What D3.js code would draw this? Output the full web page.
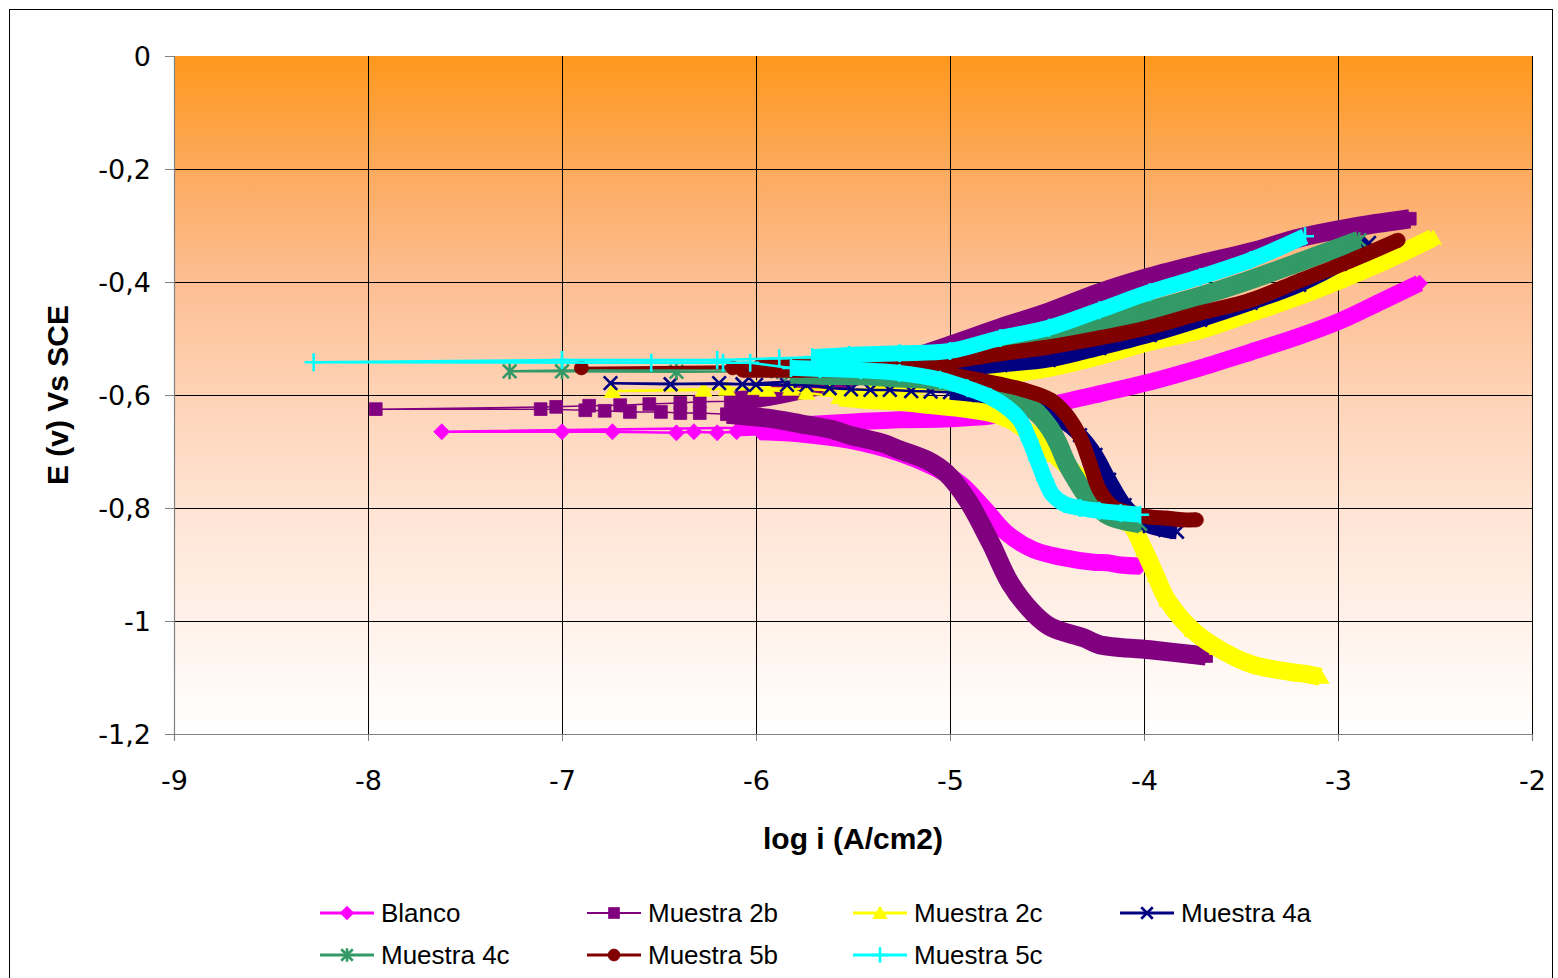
<!DOCTYPE html>
<html><head><meta charset="utf-8">
<script src="https://cdn.jsdelivr.net/npm/d3@7"></script>
<style>body{margin:0;background:#fff}</style>
</head><body>
<svg id="chart" width="1558" height="978"></svg>
<script>
// ---------- axes ----------
const xTicks = [-9,-8,-7,-6,-5,-4,-3,-2];
const yTicks = [0,-0.2,-0.4,-0.6,-0.8,-1,-1.2];
const yTickLabels = ["0","-0,2","-0,4","-0,6","-0,8","-1","-1,2"];
const xTitle = "log i (A/cm2)";
const yTitle = "E (v) Vs SCE";
const seriesNames = ["Blanco","Muestra 2b","Muestra 2c","Muestra 4a","Muestra 4c","Muestra 5b","Muestra 5c"];

// ---------- data: [log i, E] ; cathodic branch, points near Ecorr, anodic branch ----------
const blancoCathodic = [[-4.02,-0.903],[-4.12,-0.901],[-4.19,-0.897],[-4.26,-0.896],[-4.43,-0.887],[-4.57,-0.874],[-4.71,-0.844],[-4.83,-0.798],[-4.95,-0.756],[-5.09,-0.727],[-5.26,-0.703],[-5.52,-0.680],[-5.77,-0.669],[-5.98,-0.665]];
const blancoCorr = [[-6.10,-0.665],[-6.20,-0.667],[-6.32,-0.665],[-6.41,-0.667],[-6.74,-0.665],[-7.00,-0.665],[-7.62,-0.665]];
const blancoAnodic = [[-6.08,-0.658],[-5.77,-0.653],[-5.52,-0.648],[-5.26,-0.644],[-5.00,-0.642],[-4.74,-0.635],[-4.49,-0.618],[-4.23,-0.598],[-3.97,-0.577],[-3.71,-0.552],[-3.45,-0.524],[-3.20,-0.496],[-2.99,-0.469],[-2.78,-0.435],[-2.58,-0.402]];

const m2bCathodic = [[-3.68,-1.062],[-3.97,-1.051],[-4.23,-1.042],[-4.31,-1.030],[-4.48,-1.011],[-4.57,-0.986],[-4.69,-0.933],[-4.79,-0.862],[-4.91,-0.786],[-5.02,-0.738],[-5.12,-0.715],[-5.26,-0.697],[-5.35,-0.685],[-5.52,-0.671],[-5.60,-0.662],[-5.77,-0.651],[-5.94,-0.641],[-6.15,-0.634]];
const m2bCorr = [[-6.29,-0.632],[-6.39,-0.632],[-6.49,-0.630],[-6.65,-0.630],[-6.78,-0.628],[-6.88,-0.627],[-7.11,-0.625],[-7.96,-0.625],[-7.03,-0.621],[-6.86,-0.619],[-6.70,-0.618],[-6.55,-0.616],[-6.39,-0.614],[-6.29,-0.612]];
const m2bAnodic = [[-6.13,-0.611],[-5.98,-0.605],[-5.77,-0.591],[-5.52,-0.570],[-5.26,-0.542],[-5.00,-0.512],[-4.74,-0.481],[-4.49,-0.453],[-4.23,-0.419],[-3.97,-0.391],[-3.71,-0.368],[-3.45,-0.347],[-3.20,-0.322],[-2.94,-0.304],[-2.63,-0.288]];

const m2cCathodic = [[-3.09,-1.099],[-3.16,-1.094],[-3.25,-1.090],[-3.45,-1.076],[-3.62,-1.048],[-3.75,-1.016],[-3.88,-0.963],[-3.94,-0.919],[-4.00,-0.874],[-4.07,-0.828],[-4.20,-0.791],[-4.33,-0.747],[-4.46,-0.706],[-4.59,-0.667],[-4.69,-0.644],[-4.79,-0.632],[-4.95,-0.623],[-5.10,-0.618],[-5.26,-0.612],[-5.41,-0.609],[-5.57,-0.604]];
const m2cCorr = [[-5.74,-0.596],[-5.94,-0.591],[-6.15,-0.589],[-6.27,-0.591],[-6.74,-0.593],[-6.00,-0.588],[-5.82,-0.589],[-5.62,-0.591]];
const m2cAnodic = [[-5.41,-0.589],[-5.26,-0.586],[-5.00,-0.575],[-4.74,-0.565],[-4.49,-0.552],[-4.23,-0.531],[-3.97,-0.506],[-3.71,-0.485],[-3.45,-0.455],[-3.20,-0.425],[-3.00,-0.398],[-2.78,-0.366],[-2.51,-0.322]];

const m4aCathodic = [[-3.83,-0.842],[-3.89,-0.839],[-3.97,-0.832],[-4.02,-0.821],[-4.10,-0.795],[-4.18,-0.750],[-4.25,-0.706],[-4.33,-0.671],[-4.43,-0.644],[-4.54,-0.627],[-4.69,-0.609],[-4.85,-0.600],[-5.00,-0.595]];
const m4aCorr = [[-5.10,-0.594],[-5.20,-0.593],[-5.31,-0.591],[-5.41,-0.591],[-5.51,-0.590],[-5.62,-0.588],[-5.74,-0.582],[-5.84,-0.582],[-6.00,-0.582],[-6.19,-0.579],[-6.44,-0.581],[-6.75,-0.579],[-6.07,-0.581],[-5.77,-0.575],[-5.52,-0.570],[-5.26,-0.565]];
const m4aAnodic = [[-5.00,-0.556],[-4.74,-0.547],[-4.49,-0.538],[-4.23,-0.517],[-3.97,-0.494],[-3.71,-0.467],[-3.45,-0.437],[-3.20,-0.405],[-2.99,-0.368],[-2.84,-0.331]];

const m4cCathodic = [[-4.02,-0.828],[-4.12,-0.821],[-4.19,-0.812],[-4.29,-0.781],[-4.35,-0.750],[-4.40,-0.720],[-4.44,-0.688],[-4.48,-0.662],[-4.55,-0.632],[-4.66,-0.604],[-4.79,-0.588],[-4.95,-0.579],[-5.10,-0.573],[-5.26,-0.570],[-5.46,-0.566],[-5.67,-0.565],[-5.82,-0.563]];
const m4cCorr = [[-5.89,-0.558],[-6.41,-0.559],[-7.00,-0.558],[-7.27,-0.558]];
const m4cAnodic = [[-5.91,-0.552],[-5.77,-0.550],[-5.52,-0.545],[-5.26,-0.542],[-5.00,-0.535],[-4.74,-0.520],[-4.49,-0.503],[-4.23,-0.474],[-3.97,-0.450],[-3.71,-0.425],[-3.45,-0.396],[-3.20,-0.365],[-2.89,-0.326]];

const m5bCathodic = [[-3.73,-0.821],[-3.80,-0.821],[-3.88,-0.818],[-3.97,-0.816],[-4.07,-0.809],[-4.16,-0.798],[-4.23,-0.768],[-4.28,-0.720],[-4.33,-0.674],[-4.40,-0.635],[-4.48,-0.609],[-4.62,-0.591],[-4.74,-0.581],[-4.90,-0.570],[-5.05,-0.561],[-5.26,-0.558],[-5.52,-0.556],[-5.77,-0.556],[-6.07,-0.556]];
const m5bCorr = [[-6.12,-0.552],[-6.90,-0.552]];
const m5bAnodic = [[-5.98,-0.549],[-5.78,-0.550],[-5.52,-0.549],[-5.26,-0.545],[-5.00,-0.540],[-4.74,-0.527],[-4.49,-0.515],[-4.23,-0.499],[-3.97,-0.480],[-3.71,-0.455],[-3.45,-0.432],[-3.20,-0.398],[-2.94,-0.363],[-2.69,-0.326]];

const m5cCathodic = [[-4.02,-0.812],[-4.12,-0.809],[-4.23,-0.805],[-4.33,-0.800],[-4.41,-0.793],[-4.47,-0.777],[-4.51,-0.750],[-4.55,-0.715],[-4.59,-0.680],[-4.64,-0.644],[-4.71,-0.621],[-4.79,-0.604],[-4.91,-0.588],[-5.05,-0.573],[-5.26,-0.561],[-5.46,-0.556],[-5.67,-0.554],[-5.82,-0.552]];
const m5cCorr = [[-6.03,-0.543],[-6.17,-0.543],[-6.54,-0.543],[-8.28,-0.542],[-7.00,-0.538],[-6.20,-0.538],[-5.88,-0.535]];
const m5cAnodic = [[-5.71,-0.533],[-5.52,-0.529],[-5.26,-0.526],[-5.00,-0.522],[-4.74,-0.499],[-4.49,-0.481],[-4.23,-0.450],[-3.97,-0.418],[-3.71,-0.391],[-3.45,-0.361],[-3.17,-0.319]];

// ---------- styles ----------
const colors = ["#FF00FF","#800080","#FFFF00","#000080","#339966","#800000","#00FFFF"];
const markers = ["diamond","square","triangle","x","asterisk","circle","plus"];
const bandWidths = [17,19,18,15,19,15,16];
const lineWidths = [2.5,1.5,2.5,2.5,2.5,2.5,2.5];

const series = [
  [blancoCathodic, blancoCorr, blancoAnodic],
  [m2bCathodic, m2bCorr, m2bAnodic],
  [m2cCathodic, m2cCorr, m2cAnodic],
  [m4aCathodic, m4aCorr, m4aAnodic],
  [m4cCathodic, m4cCorr, m4cAnodic],
  [m5bCathodic, m5bCorr, m5bAnodic],
  [m5cCathodic, m5cCorr, m5cAnodic]
].map((b,i)=>({name:seriesNames[i], cat:b[0], corr:b[1], an:b[2], color:colors[i], marker:markers[i], band:bandWidths[i], lw:lineWidths[i]}));

const svg = d3.select("#chart");
const L=174, R=1532, T=56, B=734;
const x = d3.scaleLinear().domain([-9,-2]).range([L,R]);
const y = d3.scaleLinear().domain([-1.2,0]).range([B,T]);

// outer frame
svg.append("rect").attr("x",9.5).attr("y",9.5).attr("width",1543).attr("height",1000)
  .attr("fill","#fff").attr("stroke","#000").attr("stroke-width",1);

// gradient background
const defs = svg.append("defs");
const grad = defs.append("linearGradient").attr("id","bg").attr("x1",0).attr("y1",0).attr("x2",0).attr("y2",1);
grad.append("stop").attr("offset","0%").attr("stop-color","#FF981C");
grad.append("stop").attr("offset","17%").attr("stop-color","#FCAA5E");
grad.append("stop").attr("offset","33%").attr("stop-color","#FDBE92");
grad.append("stop").attr("offset","50%").attr("stop-color","#FED3B6");
grad.append("stop").attr("offset","67%").attr("stop-color","#FFE4D4");
grad.append("stop").attr("offset","100%").attr("stop-color","#FFFFFF");
svg.append("rect").attr("x",L).attr("y",T).attr("width",R-L).attr("height",B-T).attr("fill","url(#bg)");
defs.append("clipPath").attr("id","clip").append("rect").attr("x",L).attr("y",T-12).attr("width",R-L+12).attr("height",B-T+12);

// gridlines
const grid = svg.append("g");
xTicks.slice(1).forEach(t=>grid.append("line").attr("x1",Math.round(x(t))+0.5).attr("x2",Math.round(x(t))+0.5).attr("y1",T).attr("y2",B).attr("stroke","#000").attr("stroke-width",1));
yTicks.slice(1,-1).forEach(t=>grid.append("line").attr("x1",L).attr("x2",R).attr("y1",Math.round(y(t))+0.5).attr("y2",Math.round(y(t))+0.5).attr("stroke","#000").attr("stroke-width",1));

// axes
const xAxis = d3.axisBottom(x).tickValues(xTicks).tickSize(7).tickPadding(30).tickFormat(d=>String(d));
const yAxis = d3.axisLeft(y).tickValues(yTicks).tickSize(9).tickPadding(14).tickFormat((d,i)=>yTickLabels[i]);
const gx = svg.append("g").attr("transform",`translate(0,${B})`).call(xAxis);
const gy = svg.append("g").attr("transform",`translate(${L},0)`).call(yAxis);
[gx,gy].forEach(g=>{
  g.select(".domain").attr("stroke","#808080").attr("stroke-width",1.2);
  g.selectAll(".tick line").attr("stroke","#808080");
  g.selectAll(".tick text").attr("font-family","DejaVu Sans").attr("font-size",27).attr("fill","#000");
});
gy.selectAll(".tick text").attr("dy","0.36em");

// titles
svg.append("text").attr("x",853).attr("y",849).attr("text-anchor","middle")
  .attr("font-family","Liberation Sans, Arial").attr("font-weight","bold").attr("font-size",30).text(xTitle);
svg.append("text").attr("transform","translate(68,395) rotate(-90)").attr("text-anchor","middle")
  .attr("font-family","Liberation Sans, Arial").attr("font-weight","bold").attr("font-size",30).text(yTitle);

// marker path generator
function markerPath(type, s){
  const h=s/2;
  switch(type){
    case "diamond": return `M0,${-h}L${h},0L0,${h}L${-h},0Z`;
    case "square": {const q=h*0.85; return `M${-q},${-q}H${q}V${q}H${-q}Z`;}
    case "triangle": return `M0,${-h}L${h*1.05},${h*0.8}L${-h*1.05},${h*0.8}Z`;
    case "x": {const q=h*0.9; return `M${-q},${-q}L${q},${q}M${q},${-q}L${-q},${q}`;}
    case "asterisk": {const q=h*0.85; return `M${-q},${-q}L${q},${q}M${q},${-q}L${-q},${q}M0,${-h}V${h}`;}
    case "circle": return d3.arc()({innerRadius:0,outerRadius:h,startAngle:0,endAngle:2*Math.PI});
    case "plus": return `M${-h},0H${h}M0,${-h}V${h}`;
  }
}
const filledM = {diamond:true,square:true,triangle:true,circle:true};
const markerSize = {diamond:16,square:15,triangle:16,x:15,asterisk:16,circle:14,plus:18};

function drawMarker(g, type, color, px, py, scale){
  const s = markerSize[type]*(scale||1);
  const p = g.append("path").attr("d",markerPath(type,s)).attr("transform",`translate(${px},${py})`);
  if(filledM[type]) p.attr("fill",color).attr("stroke",color).attr("stroke-width",0.8);
  else p.attr("fill","none").attr("stroke",color).attr("stroke-width",2.6);
}

const plot = svg.append("g").attr("clip-path","url(#clip)");
const lineGen = d3.line().x(d=>x(d[0])).y(d=>y(d[1]));
const bandGen = d3.line().x(d=>x(d[0])).y(d=>y(d[1])).curve(d3.curveCatmullRom.alpha(0.5));

series.forEach(s=>{
  const g = plot.append("g");
  [s.cat, s.an].forEach(br=>{
    g.append("path").attr("d",bandGen(br)).attr("fill","none").attr("stroke",s.color)
      .attr("stroke-width",s.band).attr("stroke-linejoin","round").attr("stroke-linecap","butt");
  });
  const all = s.cat.concat(s.corr, s.an);
  g.append("path").attr("d",lineGen(all)).attr("fill","none").attr("stroke",s.color).attr("stroke-width",s.lw);
  all.forEach(d=>drawMarker(g, s.marker, s.color, x(d[0]), y(d[1])));
});

// legend
const legX = [320,587,853,1120];
const legY = [913,955];
series.forEach((s,i)=>{
  const lx = legX[i%4], ly = legY[Math.floor(i/4)];
  const g = svg.append("g");
  g.append("line").attr("x1",lx).attr("x2",lx+54).attr("y1",ly).attr("y2",ly).attr("stroke",s.color).attr("stroke-width",s.lw+0.5);
  drawMarker(g, s.marker, s.color, lx+27, ly, 0.85);
  g.append("text").attr("x",lx+61).attr("y",ly).attr("dy","0.36em").attr("font-family","Liberation Sans, Arial")
    .attr("font-size",26).attr("fill","#000").text(s.name);
});
</script>
</body></html>
